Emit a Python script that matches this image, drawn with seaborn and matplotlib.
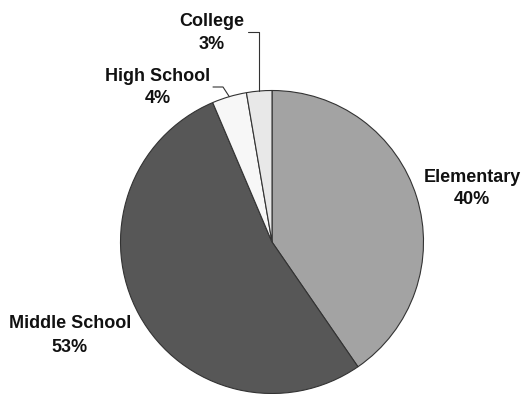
import numpy as np
import matplotlib
matplotlib.use("Agg")
import matplotlib.pyplot as plt
import seaborn as sns

categories = ["Elementary", "Middle School", "High School", "College"]
values = [40.4, 53.2, 3.7, 2.7]
labels_pct = ["40%", "53%", "4%", "3%"]
colors = ["#a3a3a3", "#575757", "#f7f7f7", "#e8e8e8"]

sns.set_theme(style="white")
plt.rcParams['font.family'] = ['Liberation Sans', 'DejaVu Sans']

W, H = 524, 394
fig = plt.figure(figsize=(W / 100, H / 100), dpi=100)
ax = fig.add_axes([0, 0, 1, 1])

cx, cy, r = 272, H - 242, 151.5
wedges, _ = ax.pie(values, colors=colors, startangle=90, counterclock=False,
                   center=(cx, cy), radius=r, frame=True,
                   wedgeprops=dict(edgecolor="#333333", linewidth=0.8))
ax.set_xlim(0, W)
ax.set_ylim(0, H)
ax.set_aspect("equal")
ax.axis("off")

def edge_point(i):
    w = wedges[i]
    ang = np.deg2rad((w.theta1 + w.theta2) / 2)
    return cx + r * np.cos(ang), cy + r * np.sin(ang)

fs = 13
label_pos = {
    0: (472, 177, 199),
    1: (70, 323, 347),
    2: (158, 76, 98),
    3: (212, 21, 44),
}
for i, (x, y1, y2) in label_pos.items():
    ax.text(x, H - y1, categories[i], ha="center", va="center",
            fontsize=fs, fontweight="bold", color="#111111")
    ax.text(x, H - y2, labels_pct[i], ha="center", va="center",
            fontsize=fs, fontweight="bold", color="#111111")

ex, ey = edge_point(3)
ax.plot([248, ex, ex], [H - 32, H - 32, ey], color="#333333", lw=0.8)
ex, ey = edge_point(2)
ax.plot([213, 223, ex], [H - 87, H - 87, ey], color="#333333", lw=0.8)

fig.savefig("out.png", dpi=100)
